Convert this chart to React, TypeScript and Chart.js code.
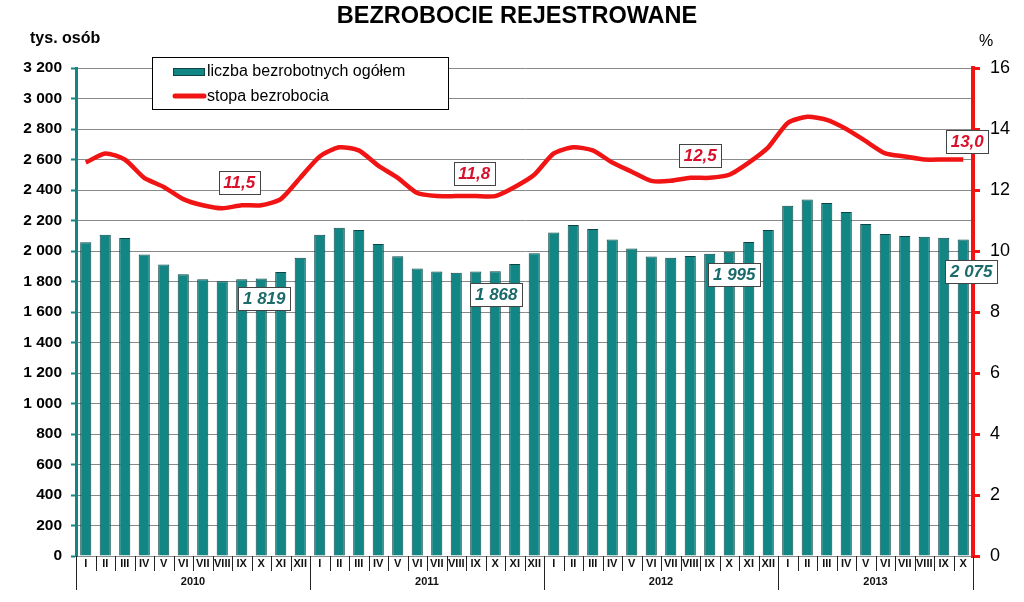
import React, { useEffect, useRef } from 'react';
import { Chart, registerables } from 'chart.js';

Chart.register(...registerables);

const MONTHS = ['I', 'II', 'III', 'IV', 'V', 'VI', 'VII', 'VIII', 'IX', 'X', 'XI', 'XII'];
const YEARS = ['2010', '2011', '2012', '2013'];
const MONTHS_PER_YEAR = [12, 12, 12, 10];

// liczba bezrobotnych ogółem (tys. osób)
const UNEMPLOYED = [
  2057, 2106, 2085, 1977, 1912, 1847, 1815, 1802, 1815, 1819, 1863, 1955,
  2107, 2153, 2138, 2046, 1965, 1886, 1865, 1858, 1865, 1868, 1915, 1985,
  2122, 2170, 2144, 2076, 2017, 1964, 1956, 1967, 1982, 1995, 2059, 2137,
  2296, 2337, 2315, 2255, 2177, 2112, 2099, 2094, 2087, 2075,
];

// stopa bezrobocia (%)
const RATE = [
  12.9, 13.2, 13.0, 12.4, 12.1, 11.7, 11.5, 11.4, 11.5, 11.5, 11.7, 12.4,
  13.1, 13.4, 13.3, 12.8, 12.4, 11.9, 11.8, 11.8, 11.8, 11.8, 12.1, 12.5,
  13.2, 13.4, 13.3, 12.9, 12.6, 12.3, 12.3, 12.4, 12.4, 12.5, 12.9, 13.4,
  14.2, 14.4, 14.3, 14.0, 13.6, 13.2, 13.1, 13.0, 13.0, 13.0,
];

const TITLE = 'BEZROBOCIE REJESTROWANE';
const LEFT_UNIT = 'tys. osób';
const RIGHT_UNIT = '%';
const SERIES_NAMES = ['liczba bezrobotnych ogółem', 'stopa bezrobocia'];

// annotated points (October of each year)
const NOTE_INDEX = [9, 21, 33, 45];
const RATE_NOTES = ['11,5', '11,8', '12,5', '13,0'];
const COUNT_NOTES = ['1 819', '1 868', '1 995', '2 075'];

// label placement offsets (px) relative to the annotated point
const RATE_NOTE_OFFSET = [[-22, -23], [-21, -23], [-29, -19], [4, -18]];
const COUNT_NOTE_OFFSET = [[3, 20], [1, 23], [5, 23], [8, 32]];

const LABELS = YEARS.flatMap((y, k) =>
  MONTHS.slice(0, MONTHS_PER_YEAR[k]).map((m) => `${m} ${y}`)
);

const FONT = '"Liberation Sans", Arial, sans-serif';
const TEAL = '#128585';
const TEAL_DARK = '#0b4646';
const RED = '#f01414';

const fmt = (v: number) => String(v).replace(/\B(?=(\d{3})+(?!\d))/g, ' ');

const decorPlugin = {
  id: 'decor',
  afterDraw(chart: any) {
    const ctx = chart.ctx as CanvasRenderingContext2D;
    const area = chart.chartArea;
    const xs = chart.scales.x;
    const ys = chart.scales.y;
    const y2 = chart.scales.y2;
    ctx.save();

    // title & units
    ctx.fillStyle = '#000';
    ctx.textAlign = 'center';
    ctx.textBaseline = 'middle';
    ctx.font = `bold 23.5px ${FONT}`;
    ctx.fillText(TITLE, 517, 17);
    ctx.font = `bold 16px ${FONT}`;
    ctx.textAlign = 'left';
    ctx.fillText(LEFT_UNIT, 30, 39);
    ctx.font = `16px ${FONT}`;
    ctx.fillText(RIGHT_UNIT, 979, 42);

    // legend
    ctx.fillStyle = '#fff';
    ctx.fillRect(152, 57, 296, 52);
    ctx.strokeStyle = '#000';
    ctx.lineWidth = 1;
    ctx.strokeRect(152.5, 57.5, 296, 52);
    ctx.fillStyle = TEAL;
    ctx.fillRect(173, 68, 31, 7);
    ctx.strokeStyle = TEAL_DARK;
    ctx.strokeRect(173.5, 68.5, 31, 7);
    ctx.strokeStyle = RED;
    ctx.lineWidth = 5;
    ctx.lineCap = 'round';
    ctx.beginPath();
    ctx.moveTo(175, 96);
    ctx.lineTo(204, 96);
    ctx.stroke();
    ctx.fillStyle = '#000';
    ctx.font = `16px ${FONT}`;
    ctx.textAlign = 'left';
    ctx.fillText(SERIES_NAMES[0], 207, 72);
    ctx.fillText(SERIES_NAMES[1], 207, 97);

    // x axis: months, separators, years
    const n = LABELS.length;
    const w = (area.right - area.left) / n;
    ctx.lineCap = 'butt';
    ctx.strokeStyle = '#222';
    ctx.lineWidth = 1;
    const yearStarts: number[] = [];
    let acc = 0;
    MONTHS_PER_YEAR.forEach((m) => { yearStarts.push(acc); acc += m; });
    yearStarts.push(acc);
    for (let k = 0; k <= n; k++) {
      const bx = Math.round(area.left + k * w) + 0.5;
      const isYear = yearStarts.includes(k);
      ctx.beginPath();
      ctx.moveTo(bx, area.bottom);
      ctx.lineTo(bx, isYear ? area.bottom + 34 : area.bottom + 15);
      ctx.stroke();
    }
    ctx.fillStyle = '#111';
    ctx.textAlign = 'center';
    ctx.font = `bold 11px ${FONT}`;
    let idx = 0;
    MONTHS_PER_YEAR.forEach((cnt, k) => {
      for (let j = 0; j < cnt; j++) {
        ctx.fillText(MONTHS[j], xs.getPixelForValue(idx + j), area.bottom + 8);
      }
      const cx = (xs.getPixelForValue(idx) + xs.getPixelForValue(idx + cnt - 1)) / 2;
      ctx.fillText(YEARS[k], cx, area.bottom + 26);
      idx += cnt;
    });

    // annotations
    const box = (text: string, cx: number, cy: number, color: string) => {
      ctx.font = `italic bold 17px ${FONT}`;
      const tw = ctx.measureText(text).width;
      const bw = Math.round(tw + 9);
      const bh = 23;
      const x0 = Math.round(cx - bw / 2);
      const y0 = Math.round(cy - bh / 2);
      ctx.fillStyle = '#fff';
      ctx.fillRect(x0, y0, bw, bh);
      ctx.strokeStyle = '#444';
      ctx.lineWidth = 1;
      ctx.strokeRect(x0 + 0.5, y0 + 0.5, bw, bh);
      ctx.fillStyle = color;
      ctx.textAlign = 'center';
      ctx.textBaseline = 'middle';
      ctx.fillText(text, cx, cy + 1);
    };
    NOTE_INDEX.forEach((i, k) => {
      const px = xs.getPixelForValue(i);
      box(RATE_NOTES[k], px + RATE_NOTE_OFFSET[k][0], y2.getPixelForValue(RATE[i]) + RATE_NOTE_OFFSET[k][1], '#d8102c');
      box(COUNT_NOTES[k], px + COUNT_NOTE_OFFSET[k][0], ys.getPixelForValue(UNEMPLOYED[i]) + COUNT_NOTE_OFFSET[k][1], '#1b6b6b');
    });

    ctx.restore();
  },
};

export default function App() {
  const ref = useRef<HTMLCanvasElement | null>(null);

  useEffect(() => {
    if (!ref.current) return;
    const chart = new Chart(ref.current, {
      type: 'bar',
      data: {
        labels: LABELS,
        datasets: [
          {
            type: 'line',
            label: SERIES_NAMES[1],
            data: RATE,
            yAxisID: 'y2',
            borderColor: RED,
            borderWidth: 4.5,
            tension: 0.22,
            pointRadius: 0,
            fill: false,
            order: 0,
          } as any,
          {
            type: 'bar',
            label: SERIES_NAMES[0],
            data: UNEMPLOYED,
            yAxisID: 'y',
            backgroundColor: TEAL,
            borderColor: TEAL_DARK,
            borderWidth: 1,
            barPercentage: 0.57,
            categoryPercentage: 1,
            order: 1,
          },
        ],
      },
      options: {
        responsive: false,
        animation: false,
        layout: { padding: { top: 68, left: 0, right: 0, bottom: 0 } },
        plugins: { legend: { display: false }, tooltip: { enabled: false }, title: { display: false } },
        scales: {
          x: {
            offset: true,
            grid: { display: false },
            border: { display: false },
            ticks: { display: false },
            afterFit: (s: any) => { s.height = 46; },
          },
          y: {
            position: 'left',
            min: 0,
            max: 3200,
            ticks: {
              stepSize: 200,
              callback: (v: any) => fmt(Number(v)),
              color: '#000',
              padding: 9,
              font: { family: FONT, size: 15.5, weight: 'bold' },
            },
            grid: { color: '#8a8a8a', lineWidth: 1, tickLength: 5, tickColor: TEAL, tickWidth: 2 },
            border: { color: TEAL, width: 3 },
            afterFit: (s: any) => { s.width = 76; },
          },
          y2: {
            position: 'right',
            min: 0,
            max: 16,
            ticks: {
              stepSize: 2,
              color: '#000',
              padding: 10,
              font: { family: FONT, size: 18 },
            },
            grid: { drawOnChartArea: false, tickLength: 7, color: RED, lineWidth: 3 },
            border: { color: RED, width: 4 },
            afterFit: (s: any) => { s.width = 51; },
          },
        },
      } as any,
      plugins: [decorPlugin],
    });
    return () => chart.destroy();
  }, []);

  return (
    <div style={{ position: 'absolute', left: 0, top: 0, width: 1024, height: 602, background: '#fff' }}>
      <canvas ref={ref} width={1024} height={602} style={{ display: 'block' }} />
    </div>
  );
}
